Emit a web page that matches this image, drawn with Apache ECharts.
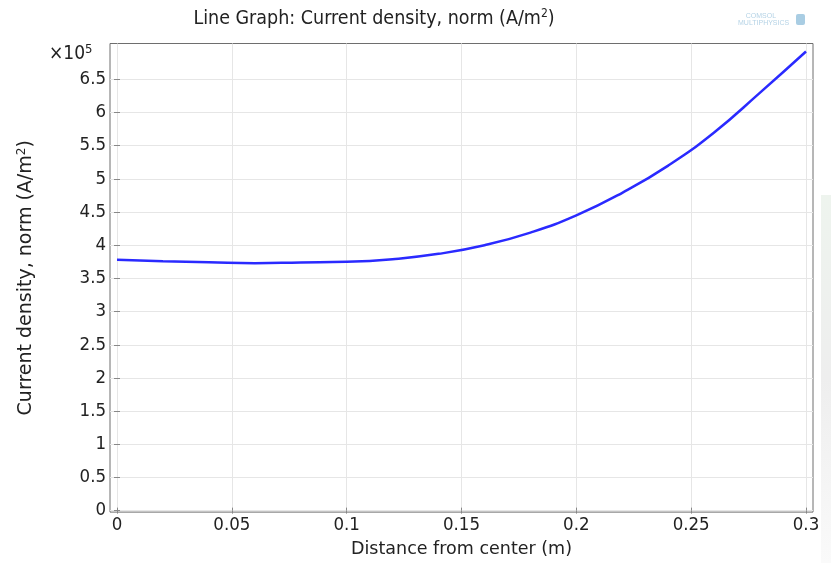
<!DOCTYPE html>
<html lang="en">
<head>
  <meta charset="UTF-8">
  <title>Current density</title>
  <style>
    * { margin: 0; padding: 0; }
    body { background: #ffffff; }
    #chart { width: 831px; height: 563px; }
  </style>
</head>
<body>
  <div id="chart"></div>
  <script src="https://cdn.jsdelivr.net/npm/echarts@6/dist/echarts.min.js"></script>
  <script type="text/javascript">
  // distance from center (m)
  var distance = [0, 0.02, 0.04, 0.06, 0.08, 0.1, 0.12, 0.14, 0.16, 0.18, 0.2, 0.22, 0.24, 0.26, 0.28, 0.3];
  // current density, in units of 1e5 A/m^2
  var density = [3.78, 3.76, 3.745, 3.73, 3.74, 3.75, 3.79, 3.87, 4.0, 4.19, 4.45, 4.79, 5.2, 5.7, 6.3, 6.92];

  // tick positions
  var xTicks = [0, 0.05, 0.1, 0.15, 0.2, 0.25, 0.3];
  var yTicks = [0, 0.5, 1, 1.5, 2, 2.5, 3, 3.5, 4, 4.5, 5, 5.5, 6, 6.5];

  var font = 'DejaVu Sans';
  var condensed = 'DejaVu Sans Condensed';
  var frame = '#6e6e6e';

  function main () {
    var chart = echarts.init(document.getElementById('chart'));
    var points = distance.map(function (d, i) { return [d, density[i]]; });

    var tick = { show: true, inside: true, length: 3, lineStyle: { color: '#888' } };

    function xAxis (extra) {
      return Object.assign({
        type: 'value', min: -0.00305, max: 0.30305,
        axisLine: { show: false },
        axisTick: Object.assign({}, tick, { customValues: xTicks }),
        axisLabel: { show: false, customValues: xTicks },
        splitLine: { show: false }
      }, extra);
    }
    function yAxis (extra) {
      return Object.assign({
        type: 'value', min: -0.022, max: 7.04,
        axisLine: { show: false },
        axisTick: Object.assign({}, tick, { customValues: yTicks }),
        axisLabel: { show: false, customValues: yTicks },
        splitLine: { show: false }
      }, extra);
    }

    var option = {
      animation: false,
      title: {
        text: 'Line Graph: Current density, norm (A/m{s|2})',
        left: 369, top: 3, textAlign: 'center',
        textStyle: {
          fontFamily: condensed, fontSize: 19.5, fontWeight: 'normal', color: '#222',
          rich: { s: { fontFamily: condensed, fontSize: 12, color: '#222', verticalAlign: 'top', padding: [0, 0, 9, 0] } }
        }
      },
      grid: {
        left: 110, right: 18, top: 43.5, bottom: 45,
        show: true, borderColor: frame, borderWidth: 1
      },
      xAxis: [xAxis({
        position: 'bottom',
        name: 'Distance from center (m)', nameLocation: 'middle', nameGap: 24,
        nameTextStyle: { fontFamily: font, fontSize: 17.5, color: '#222' },
        axisLabel: { show: true, customValues: xTicks, fontFamily: condensed, fontSize: 18.5, color: '#222', margin: 4 },
        splitLine: { show: true, lineStyle: { color: '#e6e6e6' } }
      }), xAxis({ position: 'top' })],
      yAxis: [yAxis({
        position: 'left',
        name: 'Current density, norm (A/m{s|2})', nameLocation: 'middle', nameGap: 73,
        nameTextStyle: {
          fontFamily: font, fontSize: 19, color: '#222',
          rich: { s: { fontFamily: font, fontSize: 12, color: '#222', verticalAlign: 'top', padding: [0, 0, 9, 0] } }
        },
        axisLabel: { show: true, customValues: yTicks, fontFamily: condensed, fontSize: 18.5, color: '#222', margin: 4 },
        splitLine: { show: true, lineStyle: { color: '#e6e6e6' } }
      }), yAxis({ position: 'right' })],
      graphic: [{
        type: 'text', left: 49, top: 43,
        style: {
          text: '×10{s|5}',
          fontFamily: condensed, fontSize: 19, fill: '#222',
          rich: { s: { fontFamily: condensed, fontSize: 13, fill: '#222', verticalAlign: 'top', padding: [0, 0, 10, 0] } }
        }
      }, {
        type: 'text', left: 738, top: 13,
        style: {
          text: '    COMSOL\nMULTIPHYSICS',
          fontFamily: 'Liberation Sans', fontSize: 7, lineHeight: 7, fill: '#b5d3e6', align: 'right'
        }
      }, {
        type: 'rect', left: 796, top: 14, shape: { width: 9, height: 11, r: 2 },
        style: { fill: '#a9cde3' }
      }, {
        type: 'rect', left: 821, top: 195, silent: true,
        shape: { width: 10, height: 368 },
        style: {
          fill: new echarts.graphic.LinearGradient(0, 0, 0, 1, [
            { offset: 0, color: '#eef4ee' },
            { offset: 0.5, color: '#eeeeee' },
            { offset: 1, color: '#fafafa' }
          ])
        }
      }],
      series: [{
        type: 'line',
        data: points,
        smooth: true,
        showSymbol: false,
        lineStyle: { color: '#2a2aff', width: 2.5 }
      }]
    };
    chart.setOption(option);
  }

  window.addEventListener('load', main);
  </script>
</body>
</html>
